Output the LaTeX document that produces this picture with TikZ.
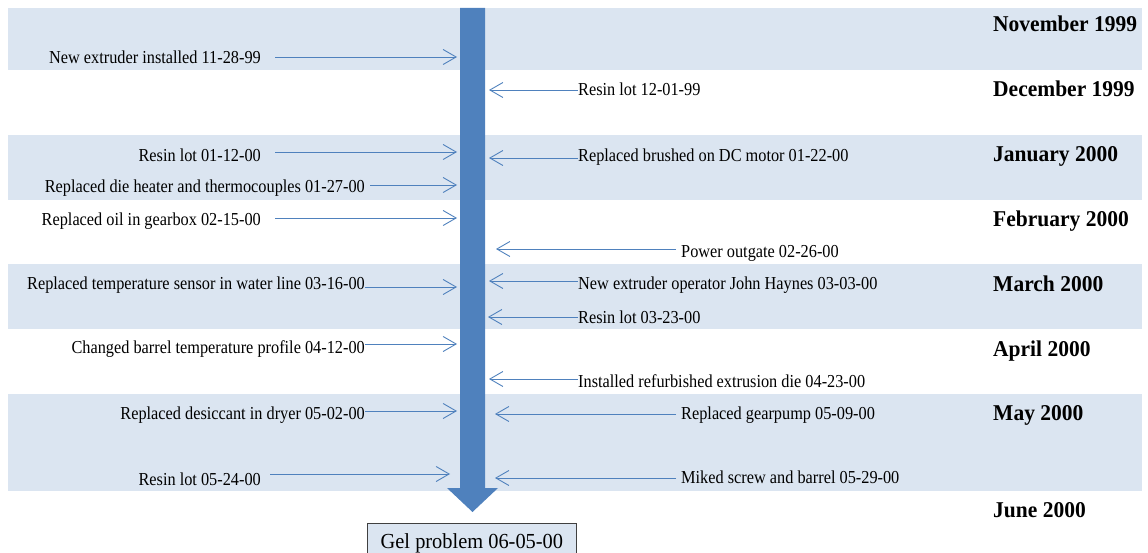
\documentclass[tikz,border=0pt]{standalone}
\usepackage{fontspec}
\setmainfont{Liberation Serif}
\usetikzlibrary{arrows.meta}
\definecolor{band}{HTML}{DBE5F1}
\definecolor{flow}{HTML}{4F81BD}
\definecolor{boxline}{HTML}{404040}
% slightly tall lettering
\newcommand\tallev[1]{\scalebox{1}[1.12]{#1}}
\newcommand\tallmo[1]{\scalebox{1}[1.05]{#1}}

\begin{document}
\begin{tikzpicture}[x=1pt,y=-1pt,
  evtext/.style={font=\fontsize{16.3}{19}\selectfont, inner sep=0pt, text=black},
  evl/.style={evtext, anchor=base east},
  evr/.style={evtext, anchor=base west},
  month/.style={font=\fontsize{21.5}{25}\selectfont\bfseries, inner sep=0pt, anchor=base west, text=black},
  ev/.style={draw=flow, line width=0.9pt, -{Straight Barb[length=13pt,width=15pt,line width=0.9pt]}},
  bandfill/.style={fill=band, draw=none}]
\useasboundingbox (0,0) rectangle (1148,553);
\clip (0,0) rectangle (1148,553);

% alternating month bands
\fill[bandfill] (8,8) rectangle (1142,70);
\fill[bandfill] (8,135) rectangle (1142,200);
\fill[bandfill] (8,264) rectangle (1142,329);
\fill[bandfill] (8,394) rectangle (1142,491);

% month labels
\node[month] (m11) at (993,32) {\tallmo{November 1999}};
\node[month] (m12) at (993,97) {\tallmo{December 1999}};
\node[month] (m01) at (993,162) {\tallmo{January 2000}};
\node[month] (m02) at (993,227) {\tallmo{February 2000}};
\node[month] (m03) at (993,291) {\tallmo{March 2000}};
\node[month] (m04) at (993,356) {\tallmo{April 2000}};
\node[month] (m05) at (993,420) {\tallmo{May 2000}};
\node[month] (m06) at (993,517) {\tallmo{June 2000}};

% time axis: thick block arrow
\fill[flow] (460,8) -- (485,8) -- (485,488) -- (498,488) -- (472.5,512)
  -- (447,488) -- (460,488) -- cycle;

% final event
\node[draw=boxline, fill=band, line width=0.8pt, minimum width=209pt,
  minimum height=40pt, anchor=north west, inner sep=0pt, text=black,
  font=\fontsize{20.4}{24}\selectfont] (gel) at (367,523) {\tallmo{Gel problem 06-05-00}};

% events on the left of the axis
\node[evl] (l1) at (261,64) {\tallev{New extruder installed 11-28-99}};
\coordinate (l1s) at (275,57); \coordinate (l1t) at (457,57);
\node[evl] (l2) at (261,162) {\tallev{Resin lot 01-12-00}};
\coordinate (l2s) at (275,152); \coordinate (l2t) at (457,152);
\node[evl] (l3) at (365,193) {\tallev{Replaced die heater and thermocouples 01-27-00}};
\coordinate (l3s) at (370,185); \coordinate (l3t) at (457,185);
\node[evl] (l4) at (261,226) {\tallev{Replaced oil in gearbox 02-15-00}};
\coordinate (l4s) at (275,218); \coordinate (l4t) at (457,218);
\node[evl] (l5) at (365,290) {\tallev{Replaced temperature sensor in water line 03-16-00}};
\coordinate (l5s) at (365,287); \coordinate (l5t) at (457,287);
\node[evl] (l6) at (365,353) {\tallev{Changed barrel temperature profile 04-12-00}};
\coordinate (l6s) at (365,344); \coordinate (l6t) at (457,344);
\node[evl] (l7) at (365,419) {\tallev{Replaced desiccant in dryer 05-02-00}};
\coordinate (l7s) at (365,411); \coordinate (l7t) at (457,411);
\node[evl] (l8) at (261,485) {\tallev{Resin lot 05-24-00}};
\coordinate (l8s) at (270,474); \coordinate (l8t) at (450,474);
\foreach \i in {1,...,8} \draw[ev] (l\i s) -- (l\i t);

% events on the right of the axis
\node[evr] (r1) at (578,96) {\tallev{Resin lot 12-01-99}};
\coordinate (r1s) at (578,90); \coordinate (r1t) at (489,90);
\node[evr] (r2) at (578,162) {\tallev{Replaced brushed on DC motor 01-22-00}};
\coordinate (r2s) at (578,158); \coordinate (r2t) at (489,158);
\node[evr] (r3) at (681,258) {\tallev{Power outgate 02-26-00}};
\coordinate (r3s) at (676,249); \coordinate (r3t) at (496,249);
\node[evr] (r4) at (578,290) {\tallev{New extruder operator John Haynes 03-03-00}};
\coordinate (r4s) at (578,281); \coordinate (r4t) at (489,281);
\node[evr] (r5) at (578,323) {\tallev{Resin lot 03-23-00}};
\coordinate (r5s) at (578,317); \coordinate (r5t) at (488,317);
\node[evr] (r6) at (578,387) {\tallev{Installed refurbished extrusion die 04-23-00}};
\coordinate (r6s) at (578,379); \coordinate (r6t) at (489,379);
\node[evr] (r7) at (681,419) {\tallev{Replaced gearpump 05-09-00}};
\coordinate (r7s) at (676,414); \coordinate (r7t) at (495,414);
\node[evr] (r8) at (681,483) {\tallev{Miked screw and barrel 05-29-00}};
\coordinate (r8s) at (676,478); \coordinate (r8t) at (495,478);
\foreach \i in {1,...,8} \draw[ev] (r\i s) -- (r\i t);
\end{tikzpicture}
\end{document}
